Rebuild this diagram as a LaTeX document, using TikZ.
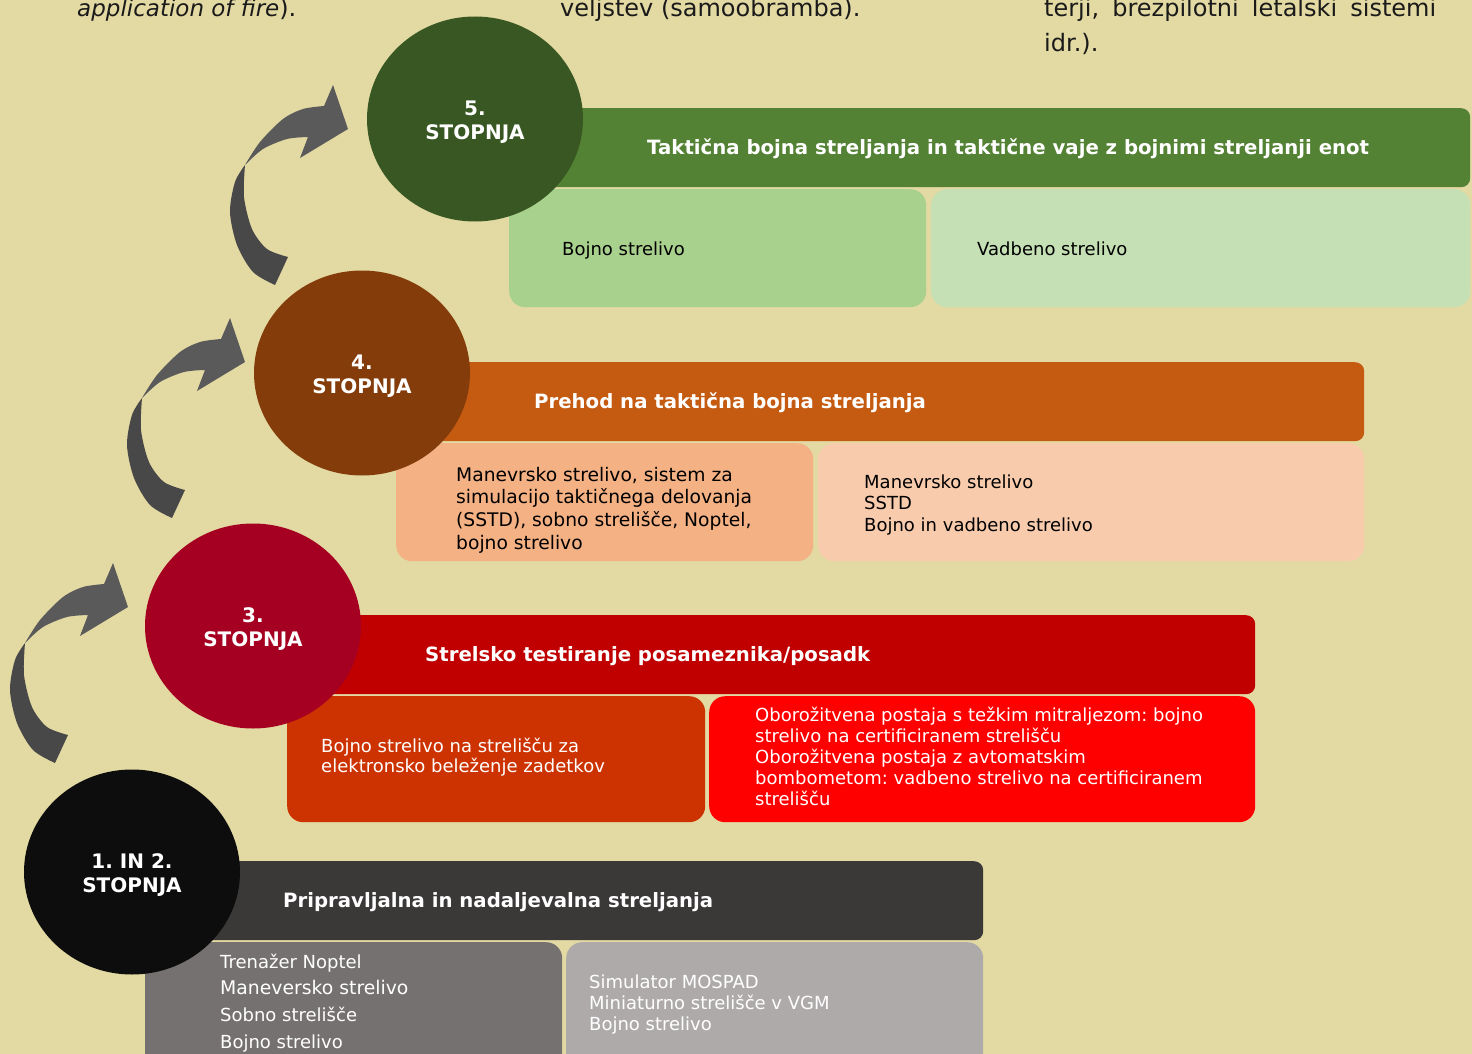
\documentclass[tikz,border=0pt]{standalone}
\usepackage{fontspec}
\setmainfont{DejaVu Sans}
\frenchspacing
\usetikzlibrary{shapes.geometric,positioning}

\definecolor{bgsand}{HTML}{E3D9A3}
\definecolor{inktext}{HTML}{1A1A1A}
\definecolor{arrowdark}{HTML}{484848}
\definecolor{arrowlight}{HTML}{5A5A5A}
\definecolor{stagefive}{HTML}{385723}
\definecolor{barfive}{HTML}{548235}
\definecolor{cellfivea}{HTML}{A9D18E}
\definecolor{cellfiveb}{HTML}{C5E0B4}
\definecolor{stagefour}{HTML}{843C0B}
\definecolor{barfour}{HTML}{C55A11}
\definecolor{cellfoura}{HTML}{F4B183}
\definecolor{cellfourb}{HTML}{F8CBAD}
\definecolor{stagethree}{HTML}{A50021}
\definecolor{barthree}{HTML}{C00000}
\definecolor{cellthreea}{HTML}{CC3300}
\definecolor{cellthreeb}{HTML}{FF0000}
\definecolor{stageone}{HTML}{0D0D0D}
\definecolor{barone}{HTML}{3B3838}
\definecolor{cellonea}{HTML}{767171}
\definecolor{celloneb}{HTML}{AEAAAA}

\tikzset{
  stage/.style={ellipse, minimum width=216, minimum height=205, inner sep=0},
  stagetext/.style={inner sep=0, yshift=-3, text=white, align=center,
    font=\bfseries\fontsize{20}{24}\selectfont},
  bar/.style={rectangle, rounded corners=9, anchor=north west, inner sep=0, minimum height=79},
  cell/.style={rectangle, rounded corners=16, anchor=north west, inner sep=0},
  bartext/.style={anchor=west, inner sep=0, text=white, font=\bfseries\fontsize{19.7}{23}\selectfont},
  celltext/.style={anchor=west, inner sep=0, align=left, font=\fontsize{18}{21.5}\selectfont},
  toptext/.style={anchor=base west, inner sep=0, text=inktext, font=\fontsize{24}{33}\selectfont},
  turn/.pic={
    % lower half of the twisted arrow
    \fill[arrowdark] plot[smooth] coordinates {(25,643) (15,660) (10,690) (17,723) (33,750) (55,763)}
      -- (68,735) -- plot[smooth] coordinates {(68,735) (47,727) (32,707) (24,675) (25,643)} -- cycle;
    % upper half with the head
    \fill[arrowlight] plot[smooth] coordinates {(25,643) (40,620) (63,597) (83,587) (104,584)}
      -- (113,563) -- (128,607) -- (80,636)
      -- plot[smooth] coordinates {(88,615) (67,617) (43,627) (25,643)} -- cycle;
  }
}

\begin{document}
\begin{tikzpicture}[x=1pt,y=-1pt]
  \fill[bgsand] (0,0) rectangle (1472,1054);
  \useasboundingbox (0,0) rectangle (1472,1054);

  % text cut off at the top
  \node[toptext] (fire) at (77,17) {\textit{\fontsize{23}{33}\selectfont application of fire}).};
  \node[toptext] (self) at (560,17) {veljstev (samoobramba).};
  \node[toptext] (uav) at (1044,17) {\makebox[392pt][s]{terji, brezpilotni letalski sistemi}};
  \node[toptext] (idr) at (1044,52) {idr.).};

  % arrows between the stages
  \pic at (0,0) {turn};
  \pic at (117,-245) {turn};
  \pic at (220,-478) {turn};

  % stage 5
  \node[bar, fill=barfive, minimum width=930] (b5) at (540,108) {};
  \node[cell, fill=cellfivea, minimum width=417, minimum height=118] (c5a) at (509,189) {};
  \node[cell, fill=cellfiveb, minimum width=539, minimum height=118] (c5b) at (931,189) {};
  \node[stage, fill=stagefive, label={[stagetext]center:5.\\STOPNJA}] (s5) at (475,119) {};
  \node[bartext] (t5) at (647,149) {Taktična bojna streljanja in taktične vaje z bojnimi streljanji enot};
  \node[celltext] (t5a) at (562,251) {Bojno strelivo};
  \node[celltext] (t5b) at (977,249) {Vadbeno strelivo};

  % stage 4
  \node[bar, fill=barfour, minimum width=944] (b4) at (420,362) {};
  \node[cell, fill=cellfoura, minimum width=417, minimum height=118] (c4a) at (396,443) {};
  \node[cell, fill=cellfourb, minimum width=546, minimum height=118] (c4b) at (818,443) {};
  \node[stage, fill=stagefour, label={[stagetext]center:4.\\STOPNJA}] (s4) at (362,373) {};
  \node[bartext] (t4) at (534,403) {Prehod na taktična bojna streljanja};
  \node[celltext, font=\fontsize{18.7}{22.7}\selectfont] (t4a) at (456,510)
    {Manevrsko strelivo, sistem za\\simulacijo taktičnega delovanja\\(SSTD), sobno strelišče, Noptel,\\bojno strelivo};
  \node[celltext] (t4b) at (864,505) {Manevrsko strelivo\\SSTD\\Bojno in vadbeno strelivo};

  % stage 3
  \node[bar, fill=barthree, minimum width=945] (b3) at (310,615) {};
  \node[cell, fill=cellthreea, minimum width=418, minimum height=126] (c3a) at (287,696) {};
  \node[cell, fill=cellthreeb, minimum width=546, minimum height=126] (c3b) at (709,696) {};
  \node[stage, fill=stagethree, label={[stagetext]center:3.\\STOPNJA}] (s3) at (253,626) {};
  \node[bartext] (t3) at (425,656) {Strelsko testiranje posameznika/posadk};
  \node[celltext, text=white, font=\fontsize{18}{20}\selectfont] (t3a) at (321,757)
    {Bojno strelivo na strelišču za\\elektronsko beleženje zadetkov};
  \node[celltext, text=white, font=\fontsize{18}{21}\selectfont] (t3b) at (755,756)
    {Oborožitvena postaja s težkim mitraljezom: bojno\\strelivo na certificiranem strelišču\\Oborožitvena postaja z avtomatskim\\bombometom: vadbeno strelivo na certificiranem\\strelišču};

  % stages 1 and 2
  \node[bar, fill=barone, minimum width=793] (b1) at (190,861) {};
  \node[cell, fill=cellonea, minimum width=417, minimum height=130] (c1a) at (145,942) {};
  \node[cell, fill=celloneb, minimum width=417, minimum height=130] (c1b) at (566,942) {};
  \node[stage, fill=stageone, label={[stagetext]center:1. IN 2.\\STOPNJA}] (s1) at (132,872) {};
  \node[bartext] (t1) at (283,902) {Pripravljalna in nadaljevalna streljanja};
  \node[celltext, text=white, font=\fontsize{18}{26.7}\selectfont] (t1a) at (220,1003)
    {Trenažer Noptel\\{\fontsize{18.8}{26.7}\selectfont Maneversko strelivo}\\Sobno strelišče\\Bojno strelivo};
  \node[celltext, text=white, font=\fontsize{18}{21}\selectfont] (t1b) at (589,1005)
    {Simulator MOSPAD\\Miniaturno strelišče v VGM\\Bojno strelivo};
\end{tikzpicture}
\end{document}
